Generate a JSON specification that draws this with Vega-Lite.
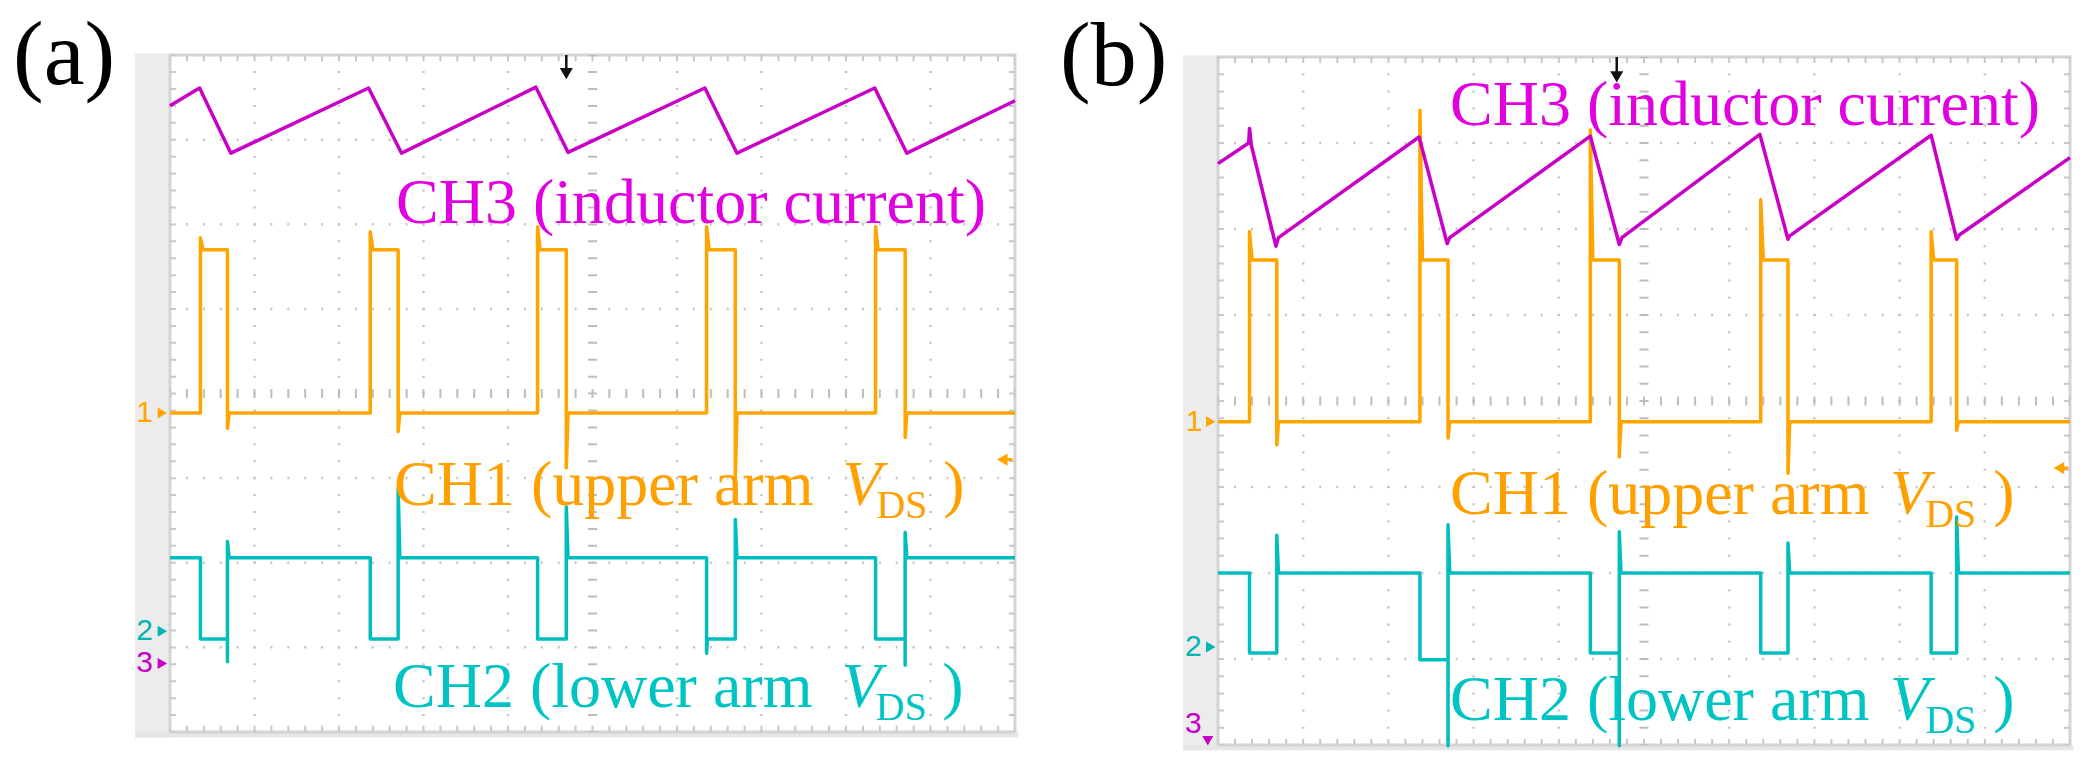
{
"$schema": "https://vega.github.io/schema/vega-lite/v6.json",
"padding": 0,
"spacing": 0,
"bounds": "flush",
"background": "white",
"config": {"view": {"stroke": null}, "axis": {"disable": true}},
"datasets": {
"tracesA": [
{"ch":"CH1","x":0,"y":3.77},{"ch":"CH1","x":0.36,"y":3.77},{"ch":"CH1","x":0.36,"y":5.84},{"ch":"CH1","x":0.39,"y":5.7},{"ch":"CH1","x":0.68,"y":5.7},{"ch":"CH1","x":0.68,"y":3.59},{"ch":"CH1","x":0.7,"y":3.77},
{"ch":"CH1","x":2.37,"y":3.77},{"ch":"CH1","x":2.37,"y":5.91},{"ch":"CH1","x":2.4,"y":5.7},{"ch":"CH1","x":2.7,"y":5.7},{"ch":"CH1","x":2.7,"y":3.55},{"ch":"CH1","x":2.72,"y":3.77},
{"ch":"CH1","x":4.35,"y":3.77},{"ch":"CH1","x":4.35,"y":5.97},{"ch":"CH1","x":4.38,"y":5.7},{"ch":"CH1","x":4.69,"y":5.7},{"ch":"CH1","x":4.69,"y":3.12},{"ch":"CH1","x":4.71,"y":3.77},
{"ch":"CH1","x":6.35,"y":3.77},{"ch":"CH1","x":6.35,"y":5.97},{"ch":"CH1","x":6.38,"y":5.7},{"ch":"CH1","x":6.69,"y":5.7},{"ch":"CH1","x":6.69,"y":2.98},{"ch":"CH1","x":6.71,"y":3.77},
{"ch":"CH1","x":8.35,"y":3.77},{"ch":"CH1","x":8.35,"y":5.97},{"ch":"CH1","x":8.38,"y":5.7},{"ch":"CH1","x":8.7,"y":5.7},{"ch":"CH1","x":8.7,"y":3.48},{"ch":"CH1","x":8.72,"y":3.77},
{"ch":"CH1","x":10,"y":3.77},
{"ch":"CH2","x":0,"y":2.06},{"ch":"CH2","x":0.36,"y":2.06},{"ch":"CH2","x":0.36,"y":1.1},{"ch":"CH2","x":0.68,"y":1.1},{"ch":"CH2","x":0.68,"y":0.83},{"ch":"CH2","x":0.68,"y":2.25},{"ch":"CH2","x":0.7,"y":2.06},
{"ch":"CH2","x":2.37,"y":2.06},{"ch":"CH2","x":2.37,"y":1.1},{"ch":"CH2","x":2.7,"y":1.1},{"ch":"CH2","x":2.7,"y":2.88},{"ch":"CH2","x":2.72,"y":2.06},
{"ch":"CH2","x":4.35,"y":2.06},{"ch":"CH2","x":4.35,"y":1.1},{"ch":"CH2","x":4.69,"y":1.1},{"ch":"CH2","x":4.69,"y":2.66},{"ch":"CH2","x":4.71,"y":2.06},
{"ch":"CH2","x":6.35,"y":2.06},{"ch":"CH2","x":6.35,"y":0.93},{"ch":"CH2","x":6.36,"y":1.1},{"ch":"CH2","x":6.69,"y":1.1},{"ch":"CH2","x":6.69,"y":2.51},{"ch":"CH2","x":6.71,"y":2.06},
{"ch":"CH2","x":8.35,"y":2.06},{"ch":"CH2","x":8.35,"y":1.1},{"ch":"CH2","x":8.7,"y":1.1},{"ch":"CH2","x":8.7,"y":0.79},{"ch":"CH2","x":8.7,"y":2.36},{"ch":"CH2","x":8.72,"y":2.06},
{"ch":"CH2","x":10,"y":2.06},
{"ch":"CH3","x":0,"y":7.4},{"ch":"CH3","x":0.35,"y":7.61},{"ch":"CH3","x":0.72,"y":6.84},{"ch":"CH3","x":2.35,"y":7.61},{"ch":"CH3","x":2.74,"y":6.84},{"ch":"CH3","x":4.33,"y":7.62},{"ch":"CH3","x":4.71,"y":6.85},{"ch":"CH3","x":6.33,"y":7.61},{"ch":"CH3","x":6.71,"y":6.84},{"ch":"CH3","x":8.34,"y":7.61},{"ch":"CH3","x":8.72,"y":6.84},{"ch":"CH3","x":10,"y":7.46}
],
"tracesB": [
{"ch":"CH1","x":0,"y":3.76},{"ch":"CH1","x":0.37,"y":3.76},{"ch":"CH1","x":0.37,"y":5.97},{"ch":"CH1","x":0.4,"y":5.64},{"ch":"CH1","x":0.69,"y":5.64},{"ch":"CH1","x":0.69,"y":3.49},{"ch":"CH1","x":0.71,"y":3.76},
{"ch":"CH1","x":2.37,"y":3.76},{"ch":"CH1","x":2.37,"y":7.38},{"ch":"CH1","x":2.4,"y":5.64},{"ch":"CH1","x":2.7,"y":5.64},{"ch":"CH1","x":2.7,"y":3.57},{"ch":"CH1","x":2.72,"y":3.76},
{"ch":"CH1","x":4.37,"y":3.76},{"ch":"CH1","x":4.37,"y":7.15},{"ch":"CH1","x":4.4,"y":5.64},{"ch":"CH1","x":4.71,"y":5.64},{"ch":"CH1","x":4.71,"y":3.35},{"ch":"CH1","x":4.73,"y":3.76},
{"ch":"CH1","x":6.37,"y":3.76},{"ch":"CH1","x":6.37,"y":6.34},{"ch":"CH1","x":6.4,"y":5.64},{"ch":"CH1","x":6.69,"y":5.64},{"ch":"CH1","x":6.69,"y":3.16},{"ch":"CH1","x":6.71,"y":3.76},
{"ch":"CH1","x":8.37,"y":3.76},{"ch":"CH1","x":8.37,"y":5.97},{"ch":"CH1","x":8.4,"y":5.64},{"ch":"CH1","x":8.67,"y":5.64},{"ch":"CH1","x":8.67,"y":3.66},{"ch":"CH1","x":8.69,"y":3.76},
{"ch":"CH1","x":10,"y":3.76},
{"ch":"CH2","x":0,"y":2.0},{"ch":"CH2","x":0.37,"y":2.0},{"ch":"CH2","x":0.37,"y":1.07},{"ch":"CH2","x":0.69,"y":1.07},{"ch":"CH2","x":0.69,"y":2.44},{"ch":"CH2","x":0.71,"y":2.0},
{"ch":"CH2","x":2.37,"y":2.0},{"ch":"CH2","x":2.37,"y":0.99},{"ch":"CH2","x":2.7,"y":0.99},{"ch":"CH2","x":2.7,"y":-0.01},{"ch":"CH2","x":2.7,"y":2.56},{"ch":"CH2","x":2.72,"y":2.0},
{"ch":"CH2","x":4.37,"y":2.0},{"ch":"CH2","x":4.37,"y":1.07},{"ch":"CH2","x":4.71,"y":1.07},{"ch":"CH2","x":4.71,"y":-0.01},{"ch":"CH2","x":4.71,"y":2.48},{"ch":"CH2","x":4.73,"y":2.0},
{"ch":"CH2","x":6.37,"y":2.0},{"ch":"CH2","x":6.37,"y":1.07},{"ch":"CH2","x":6.69,"y":1.07},{"ch":"CH2","x":6.69,"y":2.35},{"ch":"CH2","x":6.71,"y":2.0},
{"ch":"CH2","x":8.37,"y":2.0},{"ch":"CH2","x":8.37,"y":1.07},{"ch":"CH2","x":8.67,"y":1.07},{"ch":"CH2","x":8.67,"y":2.65},{"ch":"CH2","x":8.69,"y":2.0},
{"ch":"CH2","x":10,"y":2.0},
{"ch":"CH3","x":0,"y":6.76},{"ch":"CH3","x":0.36,"y":7.0},{"ch":"CH3","x":0.37,"y":7.17},{"ch":"CH3","x":0.39,"y":6.98},{"ch":"CH3","x":0.68,"y":5.8},{"ch":"CH3","x":0.71,"y":5.9},
{"ch":"CH3","x":2.36,"y":7.07},{"ch":"CH3","x":2.69,"y":5.83},{"ch":"CH3","x":2.72,"y":5.9},
{"ch":"CH3","x":4.37,"y":7.08},{"ch":"CH3","x":4.71,"y":5.82},{"ch":"CH3","x":4.74,"y":5.9},
{"ch":"CH3","x":6.36,"y":7.1},{"ch":"CH3","x":6.69,"y":5.88},{"ch":"CH3","x":6.71,"y":5.92},
{"ch":"CH3","x":8.37,"y":7.09},{"ch":"CH3","x":8.67,"y":5.88},{"ch":"CH3","x":8.7,"y":5.93},
{"ch":"CH3","x":10,"y":6.83}
]
},
"hconcat": [
{
"width": 1047, "height": 779,
"layer": [
{"data":{"values":[{}]},"mark":{"type":"rect","color":"#ececec"},"encoding":{"x":{"datum":-0.414,"type":"quantitative","scale":{"domain":[-2.0118,10.3787],"nice":false,"zero":false}},"x2":{"datum":0},"y":{"datum":-0.065,"type":"quantitative","scale":{"domain":[-0.5556,8.6501],"nice":false,"zero":false}},"y2":{"datum":8.02}}},
{"data":{"values":[{}]},"mark":{"type":"rect","color":"#e6e6e6"},"encoding":{"x":{"datum":-0.414,"type":"quantitative","scale":{"domain":[-2.0118,10.3787],"nice":false,"zero":false}},"x2":{"datum":10.04},"y":{"datum":-0.065,"type":"quantitative","scale":{"domain":[-0.5556,8.6501],"nice":false,"zero":false}},"y2":{"datum":0}}},
{"data":{"values":[{}]},"mark":{"type":"rect","filled":false,"stroke":"#d4d4d4","strokeWidth":3},"encoding":{"x":{"datum":0,"type":"quantitative","scale":{"domain":[-2.0118,10.3787],"nice":false,"zero":false}},"x2":{"datum":10},"y":{"datum":0,"type":"quantitative","scale":{"domain":[-0.5556,8.6501],"nice":false,"zero":false}},"y2":{"datum":8}}},
{"data":{"values":[{"t":1},{"t":2},{"t":3},{"t":4},{"t":6},{"t":7},{"t":8},{"t":9}]},"mark":{"type":"rule","color":"#c4c4c4","strokeWidth":2.5,"strokeDash":[2,14.92],"strokeDashOffset":1},"encoding":{"x":{"field":"t","type":"quantitative","scale":{"domain":[-2.0118,10.3787],"nice":false,"zero":false}},"y":{"datum":0,"type":"quantitative","scale":{"domain":[-0.5556,8.6501],"nice":false,"zero":false}},"y2":{"datum":8}}},
{"data":{"values":[{"t":1},{"t":2},{"t":3},{"t":5},{"t":6},{"t":7}]},"mark":{"type":"rule","color":"#c4c4c4","strokeWidth":2.5,"strokeDash":[2,14.9],"strokeDashOffset":1},"encoding":{"y":{"field":"t","type":"quantitative","scale":{"domain":[-0.5556,8.6501],"nice":false,"zero":false}},"x":{"datum":0,"type":"quantitative","scale":{"domain":[-2.0118,10.3787],"nice":false,"zero":false}},"x2":{"datum":10}}},
{"data":{"values":[{}]},"mark":{"type":"rule","color":"#c8c8c8","strokeWidth":6,"strokeDash":[2,14.9],"strokeDashOffset":1},"encoding":{"y":{"datum":7.963,"type":"quantitative","scale":{"domain":[-0.5556,8.6501],"nice":false,"zero":false}},"x":{"datum":0,"type":"quantitative","scale":{"domain":[-2.0118,10.3787],"nice":false,"zero":false}},"x2":{"datum":10}}},
{"data":{"values":[{}]},"mark":{"type":"rule","color":"#c8c8c8","strokeWidth":6,"strokeDash":[2,14.9],"strokeDashOffset":1},"encoding":{"y":{"datum":0.037,"type":"quantitative","scale":{"domain":[-0.5556,8.6501],"nice":false,"zero":false}},"x":{"datum":0,"type":"quantitative","scale":{"domain":[-2.0118,10.3787],"nice":false,"zero":false}},"x2":{"datum":10}}},
{"data":{"values":[{}]},"mark":{"type":"rule","color":"#bdbdbd","strokeWidth":9,"strokeDash":[2,14.9],"strokeDashOffset":1},"encoding":{"y":{"datum":4,"type":"quantitative","scale":{"domain":[-0.5556,8.6501],"nice":false,"zero":false}},"x":{"datum":0,"type":"quantitative","scale":{"domain":[-2.0118,10.3787],"nice":false,"zero":false}},"x2":{"datum":10}}},
{"data":{"values":[{}]},"mark":{"type":"rule","color":"#c8c8c8","strokeWidth":6,"strokeDash":[2,14.92],"strokeDashOffset":1},"encoding":{"x":{"datum":0.036,"type":"quantitative","scale":{"domain":[-2.0118,10.3787],"nice":false,"zero":false}},"y":{"datum":0,"type":"quantitative","scale":{"domain":[-0.5556,8.6501],"nice":false,"zero":false}},"y2":{"datum":8}}},
{"data":{"values":[{}]},"mark":{"type":"rule","color":"#c8c8c8","strokeWidth":6,"strokeDash":[2,14.92],"strokeDashOffset":1},"encoding":{"x":{"datum":9.964,"type":"quantitative","scale":{"domain":[-2.0118,10.3787],"nice":false,"zero":false}},"y":{"datum":0,"type":"quantitative","scale":{"domain":[-0.5556,8.6501],"nice":false,"zero":false}},"y2":{"datum":8}}},
{"data":{"values":[{}]},"mark":{"type":"rule","color":"#bdbdbd","strokeWidth":9,"strokeDash":[2,14.92],"strokeDashOffset":1},"encoding":{"x":{"datum":5,"type":"quantitative","scale":{"domain":[-2.0118,10.3787],"nice":false,"zero":false}},"y":{"datum":0,"type":"quantitative","scale":{"domain":[-0.5556,8.6501],"nice":false,"zero":false}},"y2":{"datum":8}}},
{"data":{"name":"tracesA"},"mark":{"type":"line","strokeJoin":"round"},"encoding":{"x":{"field":"x","type":"quantitative","scale":{"domain":[-2.0118,10.3787],"nice":false,"zero":false}},"y":{"field":"y","type":"quantitative","scale":{"domain":[-0.5556,8.6501],"nice":false,"zero":false}},"color":{"field":"ch","type":"nominal","scale":{"domain":["CH1","CH2","CH3"],"range":["#ffa500","#00bebe","#c800c8"]},"legend":null},"strokeWidth":{"field":"ch","type":"nominal","scale":{"domain":["CH1","CH2","CH3"],"range":[3.5,3.5,5.5]},"legend":null},"order":{"value":null}}},
{"data":{"values":[{}]},"mark":{"type":"rule","color":"#111111","strokeWidth":2.5},"encoding":{"x":{"datum":4.69,"type":"quantitative","scale":{"domain":[-2.0118,10.3787],"nice":false,"zero":false}},"y":{"datum":8,"type":"quantitative","scale":{"domain":[-0.5556,8.6501],"nice":false,"zero":false}},"y2":{"datum":7.8}}},
{"data":{"values":[{}]},"mark":{"type":"point","shape":"triangle-down","filled":true,"size":170,"color":"#111111","opacity":1},"encoding":{"x":{"datum":4.69,"type":"quantitative","scale":{"domain":[-2.0118,10.3787],"nice":false,"zero":false}},"y":{"datum":7.78,"type":"quantitative","scale":{"domain":[-0.5556,8.6501],"nice":false,"zero":false}}}},
{"data":{"values":[{}]},"mark":{"type":"point","shape":"triangle-left","filled":true,"size":150,"color":"#ffa500","opacity":1},"encoding":{"x":{"datum":9.85,"type":"quantitative","scale":{"domain":[-2.0118,10.3787],"nice":false,"zero":false}},"y":{"datum":3.22,"type":"quantitative","scale":{"domain":[-0.5556,8.6501],"nice":false,"zero":false}}}},
{"data":{"values":[{}]},"mark":{"type":"rule","color":"#ffa500","strokeWidth":3},"encoding":{"x":{"datum":9.86,"type":"quantitative","scale":{"domain":[-2.0118,10.3787],"nice":false,"zero":false}},"x2":{"datum":9.97},"y":{"datum":3.22,"type":"quantitative","scale":{"domain":[-0.5556,8.6501],"nice":false,"zero":false}}}},
{"data":{"values":[{}]},"mark":{"type":"text","text":"1","font":"Liberation Sans","fontSize":30,"align":"center","baseline":"middle","color":"#ffa500"},"encoding":{"x":{"datum":-0.3,"type":"quantitative","scale":{"domain":[-2.0118,10.3787],"nice":false,"zero":false}},"y":{"datum":3.77,"type":"quantitative","scale":{"domain":[-0.5556,8.6501],"nice":false,"zero":false}}}},
{"data":{"values":[{}]},"mark":{"type":"point","shape":"triangle-right","filled":true,"size":120,"color":"#ffa500","opacity":1},"encoding":{"x":{"datum":-0.09,"type":"quantitative","scale":{"domain":[-2.0118,10.3787],"nice":false,"zero":false}},"y":{"datum":3.77,"type":"quantitative","scale":{"domain":[-0.5556,8.6501],"nice":false,"zero":false}}}},
{"data":{"values":[{}]},"mark":{"type":"text","text":"2","font":"Liberation Sans","fontSize":30,"align":"center","baseline":"middle","color":"#00b4b4"},"encoding":{"x":{"datum":-0.3,"type":"quantitative","scale":{"domain":[-2.0118,10.3787],"nice":false,"zero":false}},"y":{"datum":1.19,"type":"quantitative","scale":{"domain":[-0.5556,8.6501],"nice":false,"zero":false}}}},
{"data":{"values":[{}]},"mark":{"type":"point","shape":"triangle-right","filled":true,"size":120,"color":"#00b4b4","opacity":1},"encoding":{"x":{"datum":-0.09,"type":"quantitative","scale":{"domain":[-2.0118,10.3787],"nice":false,"zero":false}},"y":{"datum":1.19,"type":"quantitative","scale":{"domain":[-0.5556,8.6501],"nice":false,"zero":false}}}},
{"data":{"values":[{}]},"mark":{"type":"text","text":"3","font":"Liberation Sans","fontSize":30,"align":"center","baseline":"middle","color":"#c800c8"},"encoding":{"x":{"datum":-0.3,"type":"quantitative","scale":{"domain":[-2.0118,10.3787],"nice":false,"zero":false}},"y":{"datum":0.81,"type":"quantitative","scale":{"domain":[-0.5556,8.6501],"nice":false,"zero":false}}}},
{"data":{"values":[{}]},"mark":{"type":"point","shape":"triangle-right","filled":true,"size":120,"color":"#c800c8","opacity":1},"encoding":{"x":{"datum":-0.09,"type":"quantitative","scale":{"domain":[-2.0118,10.3787],"nice":false,"zero":false}},"y":{"datum":0.81,"type":"quantitative","scale":{"domain":[-0.5556,8.6501],"nice":false,"zero":false}}}},
{"data":{"values":[{}]},"mark":{"type":"text","text":"CH3 (inductor current)","font":"Liberation Serif","fontSize":64,"align":"left","baseline":"alphabetic","color":"#e000e0"},"encoding":{"x":{"datum":2.675,"type":"quantitative","scale":{"domain":[-2.0118,10.3787],"nice":false,"zero":false}},"y":{"datum":6.017,"type":"quantitative","scale":{"domain":[-0.5556,8.6501],"nice":false,"zero":false}}}},
{"data":{"values":[{}]},"mark":{"type":"text","text":"CH1 (upper arm","font":"Liberation Serif","fontSize":64,"align":"left","baseline":"alphabetic","color":"#ffa000"},"encoding":{"x":{"datum":2.651,"type":"quantitative","scale":{"domain":[-2.0118,10.3787],"nice":false,"zero":false}},"y":{"datum":2.683,"type":"quantitative","scale":{"domain":[-0.5556,8.6501],"nice":false,"zero":false}}}},
{"data":{"values":[{}]},"mark":{"type":"text","text":"V","font":"Liberation Serif","fontStyle":"italic","fontSize":64,"align":"left","baseline":"alphabetic","color":"#ffa000"},"encoding":{"x":{"datum":7.96,"type":"quantitative","scale":{"domain":[-2.0118,10.3787],"nice":false,"zero":false}},"y":{"datum":2.683,"type":"quantitative","scale":{"domain":[-0.5556,8.6501],"nice":false,"zero":false}}}},
{"data":{"values":[{}]},"mark":{"type":"text","text":"DS","font":"Liberation Serif","fontSize":40,"align":"left","baseline":"alphabetic","color":"#ffa000"},"encoding":{"x":{"datum":8.36,"type":"quantitative","scale":{"domain":[-2.0118,10.3787],"nice":false,"zero":false}},"y":{"datum":2.53,"type":"quantitative","scale":{"domain":[-0.5556,8.6501],"nice":false,"zero":false}}}},
{"data":{"values":[{}]},"mark":{"type":"text","text":")","font":"Liberation Serif","fontSize":64,"align":"left","baseline":"alphabetic","color":"#ffa000"},"encoding":{"x":{"datum":9.15,"type":"quantitative","scale":{"domain":[-2.0118,10.3787],"nice":false,"zero":false}},"y":{"datum":2.683,"type":"quantitative","scale":{"domain":[-0.5556,8.6501],"nice":false,"zero":false}}}},
{"data":{"values":[{}]},"mark":{"type":"text","text":"CH2 (lower arm","font":"Liberation Serif","fontSize":64,"align":"left","baseline":"alphabetic","color":"#00c4c4"},"encoding":{"x":{"datum":2.639,"type":"quantitative","scale":{"domain":[-2.0118,10.3787],"nice":false,"zero":false}},"y":{"datum":0.296,"type":"quantitative","scale":{"domain":[-0.5556,8.6501],"nice":false,"zero":false}}}},
{"data":{"values":[{}]},"mark":{"type":"text","text":"V","font":"Liberation Serif","fontStyle":"italic","fontSize":64,"align":"left","baseline":"alphabetic","color":"#00c4c4"},"encoding":{"x":{"datum":7.95,"type":"quantitative","scale":{"domain":[-2.0118,10.3787],"nice":false,"zero":false}},"y":{"datum":0.296,"type":"quantitative","scale":{"domain":[-0.5556,8.6501],"nice":false,"zero":false}}}},
{"data":{"values":[{}]},"mark":{"type":"text","text":"DS","font":"Liberation Serif","fontSize":40,"align":"left","baseline":"alphabetic","color":"#00c4c4"},"encoding":{"x":{"datum":8.35,"type":"quantitative","scale":{"domain":[-2.0118,10.3787],"nice":false,"zero":false}},"y":{"datum":0.142,"type":"quantitative","scale":{"domain":[-0.5556,8.6501],"nice":false,"zero":false}}}},
{"data":{"values":[{}]},"mark":{"type":"text","text":")","font":"Liberation Serif","fontSize":64,"align":"left","baseline":"alphabetic","color":"#00c4c4"},"encoding":{"x":{"datum":9.14,"type":"quantitative","scale":{"domain":[-2.0118,10.3787],"nice":false,"zero":false}},"y":{"datum":0.296,"type":"quantitative","scale":{"domain":[-0.5556,8.6501],"nice":false,"zero":false}}}},
{"data":{"values":[{}]},"mark":{"type":"text","text":"(a)","font":"Liberation Serif","fontSize":92,"align":"left","baseline":"alphabetic","color":"#000000"},"encoding":{"x":{"datum":-1.858,"type":"quantitative","scale":{"domain":[-2.0118,10.3787],"nice":false,"zero":false}},"y":{"datum":7.66,"type":"quantitative","scale":{"domain":[-0.5556,8.6501],"nice":false,"zero":false}}}}
]
},
{
"width": 1048, "height": 779,
"layer": [
{"data":{"values":[{}]},"mark":{"type":"rect","color":"#ececec"},"encoding":{"x":{"datum":-0.41,"type":"quantitative","scale":{"domain":[-2.007,10.2934],"nice":false,"zero":false}},"x2":{"datum":0},"y":{"datum":-0.06,"type":"quantitative","scale":{"domain":[-0.3953,8.6628],"nice":false,"zero":false}},"y2":{"datum":8.02}}},
{"data":{"values":[{}]},"mark":{"type":"rect","color":"#e6e6e6"},"encoding":{"x":{"datum":-0.41,"type":"quantitative","scale":{"domain":[-2.007,10.2934],"nice":false,"zero":false}},"x2":{"datum":10.04},"y":{"datum":-0.06,"type":"quantitative","scale":{"domain":[-0.3953,8.6628],"nice":false,"zero":false}},"y2":{"datum":0}}},
{"data":{"values":[{}]},"mark":{"type":"rect","filled":false,"stroke":"#d4d4d4","strokeWidth":3},"encoding":{"x":{"datum":0,"type":"quantitative","scale":{"domain":[-2.007,10.2934],"nice":false,"zero":false}},"x2":{"datum":10},"y":{"datum":0,"type":"quantitative","scale":{"domain":[-0.3953,8.6628],"nice":false,"zero":false}},"y2":{"datum":8}}},
{"data":{"values":[{"t":1},{"t":2},{"t":3},{"t":4},{"t":6},{"t":7},{"t":8},{"t":9}]},"mark":{"type":"rule","color":"#c4c4c4","strokeWidth":2.5,"strokeDash":[2,15.2],"strokeDashOffset":1},"encoding":{"x":{"field":"t","type":"quantitative","scale":{"domain":[-2.007,10.2934],"nice":false,"zero":false}},"y":{"datum":0,"type":"quantitative","scale":{"domain":[-0.3953,8.6628],"nice":false,"zero":false}},"y2":{"datum":8}}},
{"data":{"values":[{"t":1},{"t":2},{"t":3},{"t":5},{"t":6},{"t":7}]},"mark":{"type":"rule","color":"#c4c4c4","strokeWidth":2.5,"strokeDash":[2,15.04],"strokeDashOffset":1},"encoding":{"y":{"field":"t","type":"quantitative","scale":{"domain":[-0.3953,8.6628],"nice":false,"zero":false}},"x":{"datum":0,"type":"quantitative","scale":{"domain":[-2.007,10.2934],"nice":false,"zero":false}},"x2":{"datum":10}}},
{"data":{"values":[{}]},"mark":{"type":"rule","color":"#c8c8c8","strokeWidth":6,"strokeDash":[2,15.04],"strokeDashOffset":1},"encoding":{"y":{"datum":7.965,"type":"quantitative","scale":{"domain":[-0.3953,8.6628],"nice":false,"zero":false}},"x":{"datum":0,"type":"quantitative","scale":{"domain":[-2.007,10.2934],"nice":false,"zero":false}},"x2":{"datum":10}}},
{"data":{"values":[{}]},"mark":{"type":"rule","color":"#c8c8c8","strokeWidth":6,"strokeDash":[2,15.04],"strokeDashOffset":1},"encoding":{"y":{"datum":0.035,"type":"quantitative","scale":{"domain":[-0.3953,8.6628],"nice":false,"zero":false}},"x":{"datum":0,"type":"quantitative","scale":{"domain":[-2.007,10.2934],"nice":false,"zero":false}},"x2":{"datum":10}}},
{"data":{"values":[{}]},"mark":{"type":"rule","color":"#bdbdbd","strokeWidth":9,"strokeDash":[2,15.04],"strokeDashOffset":1},"encoding":{"y":{"datum":4,"type":"quantitative","scale":{"domain":[-0.3953,8.6628],"nice":false,"zero":false}},"x":{"datum":0,"type":"quantitative","scale":{"domain":[-2.007,10.2934],"nice":false,"zero":false}},"x2":{"datum":10}}},
{"data":{"values":[{}]},"mark":{"type":"rule","color":"#c8c8c8","strokeWidth":6,"strokeDash":[2,15.2],"strokeDashOffset":1},"encoding":{"x":{"datum":0.036,"type":"quantitative","scale":{"domain":[-2.007,10.2934],"nice":false,"zero":false}},"y":{"datum":0,"type":"quantitative","scale":{"domain":[-0.3953,8.6628],"nice":false,"zero":false}},"y2":{"datum":8}}},
{"data":{"values":[{}]},"mark":{"type":"rule","color":"#c8c8c8","strokeWidth":6,"strokeDash":[2,15.2],"strokeDashOffset":1},"encoding":{"x":{"datum":9.964,"type":"quantitative","scale":{"domain":[-2.007,10.2934],"nice":false,"zero":false}},"y":{"datum":0,"type":"quantitative","scale":{"domain":[-0.3953,8.6628],"nice":false,"zero":false}},"y2":{"datum":8}}},
{"data":{"values":[{}]},"mark":{"type":"rule","color":"#bdbdbd","strokeWidth":9,"strokeDash":[2,15.2],"strokeDashOffset":1},"encoding":{"x":{"datum":5,"type":"quantitative","scale":{"domain":[-2.007,10.2934],"nice":false,"zero":false}},"y":{"datum":0,"type":"quantitative","scale":{"domain":[-0.3953,8.6628],"nice":false,"zero":false}},"y2":{"datum":8}}},
{"data":{"name":"tracesB"},"mark":{"type":"line","strokeJoin":"round"},"encoding":{"x":{"field":"x","type":"quantitative","scale":{"domain":[-2.007,10.2934],"nice":false,"zero":false}},"y":{"field":"y","type":"quantitative","scale":{"domain":[-0.3953,8.6628],"nice":false,"zero":false}},"color":{"field":"ch","type":"nominal","scale":{"domain":["CH1","CH2","CH3"],"range":["#ffa500","#00bebe","#c800c8"]},"legend":null},"strokeWidth":{"field":"ch","type":"nominal","scale":{"domain":["CH1","CH2","CH3"],"range":[3.5,3.5,5.5]},"legend":null},"order":{"value":null}}},
{"data":{"values":[{}]},"mark":{"type":"rule","color":"#111111","strokeWidth":2.5},"encoding":{"x":{"datum":4.68,"type":"quantitative","scale":{"domain":[-2.007,10.2934],"nice":false,"zero":false}},"y":{"datum":8,"type":"quantitative","scale":{"domain":[-0.3953,8.6628],"nice":false,"zero":false}},"y2":{"datum":7.8}}},
{"data":{"values":[{}]},"mark":{"type":"point","shape":"triangle-down","filled":true,"size":170,"color":"#111111","opacity":1},"encoding":{"x":{"datum":4.68,"type":"quantitative","scale":{"domain":[-2.007,10.2934],"nice":false,"zero":false}},"y":{"datum":7.77,"type":"quantitative","scale":{"domain":[-0.3953,8.6628],"nice":false,"zero":false}}}},
{"data":{"values":[{}]},"mark":{"type":"point","shape":"triangle-left","filled":true,"size":150,"color":"#ffa500","opacity":1},"encoding":{"x":{"datum":9.87,"type":"quantitative","scale":{"domain":[-2.007,10.2934],"nice":false,"zero":false}},"y":{"datum":3.22,"type":"quantitative","scale":{"domain":[-0.3953,8.6628],"nice":false,"zero":false}}}},
{"data":{"values":[{}]},"mark":{"type":"rule","color":"#ffa500","strokeWidth":3},"encoding":{"x":{"datum":9.88,"type":"quantitative","scale":{"domain":[-2.007,10.2934],"nice":false,"zero":false}},"x2":{"datum":9.98},"y":{"datum":3.22,"type":"quantitative","scale":{"domain":[-0.3953,8.6628],"nice":false,"zero":false}}}},
{"data":{"values":[{}]},"mark":{"type":"text","text":"1","font":"Liberation Sans","fontSize":30,"align":"center","baseline":"middle","color":"#ffa500"},"encoding":{"x":{"datum":-0.28,"type":"quantitative","scale":{"domain":[-2.007,10.2934],"nice":false,"zero":false}},"y":{"datum":3.76,"type":"quantitative","scale":{"domain":[-0.3953,8.6628],"nice":false,"zero":false}}}},
{"data":{"values":[{}]},"mark":{"type":"point","shape":"triangle-right","filled":true,"size":120,"color":"#ffa500","opacity":1},"encoding":{"x":{"datum":-0.085,"type":"quantitative","scale":{"domain":[-2.007,10.2934],"nice":false,"zero":false}},"y":{"datum":3.76,"type":"quantitative","scale":{"domain":[-0.3953,8.6628],"nice":false,"zero":false}}}},
{"data":{"values":[{}]},"mark":{"type":"text","text":"2","font":"Liberation Sans","fontSize":30,"align":"center","baseline":"middle","color":"#00b4b4"},"encoding":{"x":{"datum":-0.29,"type":"quantitative","scale":{"domain":[-2.007,10.2934],"nice":false,"zero":false}},"y":{"datum":1.14,"type":"quantitative","scale":{"domain":[-0.3953,8.6628],"nice":false,"zero":false}}}},
{"data":{"values":[{}]},"mark":{"type":"point","shape":"triangle-right","filled":true,"size":120,"color":"#00b4b4","opacity":1},"encoding":{"x":{"datum":-0.085,"type":"quantitative","scale":{"domain":[-2.007,10.2934],"nice":false,"zero":false}},"y":{"datum":1.14,"type":"quantitative","scale":{"domain":[-0.3953,8.6628],"nice":false,"zero":false}}}},
{"data":{"values":[{}]},"mark":{"type":"text","text":"3","font":"Liberation Sans","fontSize":30,"align":"center","baseline":"middle","color":"#c800c8"},"encoding":{"x":{"datum":-0.29,"type":"quantitative","scale":{"domain":[-2.007,10.2934],"nice":false,"zero":false}},"y":{"datum":0.24,"type":"quantitative","scale":{"domain":[-0.3953,8.6628],"nice":false,"zero":false}}}},
{"data":{"values":[{}]},"mark":{"type":"point","shape":"triangle-down","filled":true,"size":120,"color":"#c800c8","opacity":1},"encoding":{"x":{"datum":-0.12,"type":"quantitative","scale":{"domain":[-2.007,10.2934],"nice":false,"zero":false}},"y":{"datum":0.05,"type":"quantitative","scale":{"domain":[-0.3953,8.6628],"nice":false,"zero":false}}}},
{"data":{"values":[{}]},"mark":{"type":"text","text":"CH3 (inductor current)","font":"Liberation Serif","fontSize":64,"align":"left","baseline":"alphabetic","color":"#e000e0"},"encoding":{"x":{"datum":2.723,"type":"quantitative","scale":{"domain":[-2.007,10.2934],"nice":false,"zero":false}},"y":{"datum":7.209,"type":"quantitative","scale":{"domain":[-0.3953,8.6628],"nice":false,"zero":false}}}},
{"data":{"values":[{}]},"mark":{"type":"text","text":"CH1 (upper arm","font":"Liberation Serif","fontSize":64,"align":"left","baseline":"alphabetic","color":"#ffa000"},"encoding":{"x":{"datum":2.723,"type":"quantitative","scale":{"domain":[-2.007,10.2934],"nice":false,"zero":false}},"y":{"datum":2.686,"type":"quantitative","scale":{"domain":[-0.3953,8.6628],"nice":false,"zero":false}}}},
{"data":{"values":[{}]},"mark":{"type":"text","text":"V","font":"Liberation Serif","fontStyle":"italic","fontSize":64,"align":"left","baseline":"alphabetic","color":"#ffa000"},"encoding":{"x":{"datum":7.887,"type":"quantitative","scale":{"domain":[-2.007,10.2934],"nice":false,"zero":false}},"y":{"datum":2.686,"type":"quantitative","scale":{"domain":[-0.3953,8.6628],"nice":false,"zero":false}}}},
{"data":{"values":[{}]},"mark":{"type":"text","text":"DS","font":"Liberation Serif","fontSize":40,"align":"left","baseline":"alphabetic","color":"#ffa000"},"encoding":{"x":{"datum":8.3,"type":"quantitative","scale":{"domain":[-2.007,10.2934],"nice":false,"zero":false}},"y":{"datum":2.535,"type":"quantitative","scale":{"domain":[-0.3953,8.6628],"nice":false,"zero":false}}}},
{"data":{"values":[{}]},"mark":{"type":"text","text":")","font":"Liberation Serif","fontSize":64,"align":"left","baseline":"alphabetic","color":"#ffa000"},"encoding":{"x":{"datum":9.1,"type":"quantitative","scale":{"domain":[-2.007,10.2934],"nice":false,"zero":false}},"y":{"datum":2.686,"type":"quantitative","scale":{"domain":[-0.3953,8.6628],"nice":false,"zero":false}}}},
{"data":{"values":[{}]},"mark":{"type":"text","text":"CH2 (lower arm","font":"Liberation Serif","fontSize":64,"align":"left","baseline":"alphabetic","color":"#00c4c4"},"encoding":{"x":{"datum":2.723,"type":"quantitative","scale":{"domain":[-2.007,10.2934],"nice":false,"zero":false}},"y":{"datum":0.291,"type":"quantitative","scale":{"domain":[-0.3953,8.6628],"nice":false,"zero":false}}}},
{"data":{"values":[{}]},"mark":{"type":"text","text":"V","font":"Liberation Serif","fontStyle":"italic","fontSize":64,"align":"left","baseline":"alphabetic","color":"#00c4c4"},"encoding":{"x":{"datum":7.887,"type":"quantitative","scale":{"domain":[-2.007,10.2934],"nice":false,"zero":false}},"y":{"datum":0.291,"type":"quantitative","scale":{"domain":[-0.3953,8.6628],"nice":false,"zero":false}}}},
{"data":{"values":[{}]},"mark":{"type":"text","text":"DS","font":"Liberation Serif","fontSize":40,"align":"left","baseline":"alphabetic","color":"#00c4c4"},"encoding":{"x":{"datum":8.3,"type":"quantitative","scale":{"domain":[-2.007,10.2934],"nice":false,"zero":false}},"y":{"datum":0.14,"type":"quantitative","scale":{"domain":[-0.3953,8.6628],"nice":false,"zero":false}}}},
{"data":{"values":[{}]},"mark":{"type":"text","text":")","font":"Liberation Serif","fontSize":64,"align":"left","baseline":"alphabetic","color":"#00c4c4"},"encoding":{"x":{"datum":9.1,"type":"quantitative","scale":{"domain":[-2.007,10.2934],"nice":false,"zero":false}},"y":{"datum":0.291,"type":"quantitative","scale":{"domain":[-0.3953,8.6628],"nice":false,"zero":false}}}},
{"data":{"values":[{}]},"mark":{"type":"text","text":"(b)","font":"Liberation Serif","fontSize":92,"align":"left","baseline":"alphabetic","color":"#000000"},"encoding":{"x":{"datum":-1.854,"type":"quantitative","scale":{"domain":[-2.007,10.2934],"nice":false,"zero":false}},"y":{"datum":7.67,"type":"quantitative","scale":{"domain":[-0.3953,8.6628],"nice":false,"zero":false}}}}
]
}
]
}
